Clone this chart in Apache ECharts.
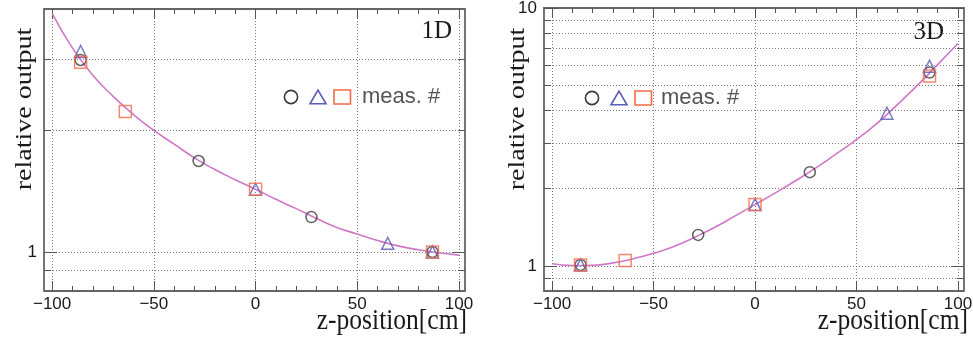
<!DOCTYPE html>
<html><head><meta charset="utf-8">
<script src="https://cdn.jsdelivr.net/npm/echarts@6/dist/echarts.min.js"></script>
<style>html,body{margin:0;padding:0;background:#fff}#c{width:973px;height:339px}</style>
</head><body><div id="c"></div>
<script>
// ---- data ----
const curveX   = [-100,-90,-80,-70,-60,-50,-40,-30,-20,-10,0,10,20,30,40,50,60,70,80,90,100];
const curve1D  = [3.90,3.20,2.74,2.43,2.19,2.00,1.85,1.71,1.60,1.51,1.43,1.35,1.28,1.21,1.15,1.107,1.067,1.035,1.012,0.995,0.982];
const curve3D  = [1.02,1.005,1.007,1.028,1.067,1.12,1.19,1.29,1.41,1.56,1.73,1.92,2.14,2.40,2.72,3.09,3.56,4.21,5.01,6.03,7.28];

const circX1D = [-86,-28,27.5,87];  const circY1D = [2.99,1.68,1.22,1.00];
const triX1D  = [-86,0,65,87];      const triY1D  = [3.14,1.43,1.05,1.00];
const sqX1D   = [-86,-64,0,87];     const sqY1D   = [2.95,2.23,1.43,1.00];

const circX3D = [-86,-28,27,86];    const circY3D = [1.01,1.32,2.31,5.62];
const triX3D  = [-86,0,65,86];      const triY3D  = [1.01,1.73,3.91,5.95];
const sqX3D   = [-86,-64,0,86];     const sqY3D   = [1.01,1.05,1.73,5.45];

const xMajorTicks = [-100,-50,0,50,100];
const xMinorTicks = [-100,-90,-80,-70,-60,-50,-40,-30,-20,-10,0,10,20,30,40,50,60,70,80,90,100];
const yTicks1D  = [0.9,1,2,3];           const yMajor1D = [1];     const yLabels1D = [1];
const yTicks3D  = [0.9,1,2,3,4,5,6,7,8,9]; const yMajor3D = [1,10]; const yLabels3D = [1,10];

// ---- styling ----
const SANS = 'Liberation Sans, Arial, sans-serif';
const SERIF = 'Liberation Serif, Times New Roman, serif';
const TICK = '#555';
const GRIDC = '#7a7a7a';
const CIRC = '#3a3a3a', TRI = '#5b5bb8', SQ = '#f26a48', CURVE = '#d078c8';
const minus = v => String(v).replace('-', '\u2212');
const zip = (a, b) => a.map((v, i) => [v, b[i]]);

function xAxes(g) {
  const base = {type:'value', gridIndex:g, min:-104, max:103,
    axisLine:{show:false,onZero:false}, splitLine:{show:false}, axisLabel:{show:false}};
  const tick = (vals, len) => ({show:true, inside:true, length:len, customValues:vals, lineStyle:{color:TICK, width:1}});
  return [
    Object.assign({}, base, {position:'bottom', axisTick:tick(xMajorTicks, 10),
      axisLabel:{show:true, customValues:xMajorTicks, formatter:minus, color:'#1a1a1a', fontSize:17, fontFamily:SANS, margin:5},
      splitLine:{show:true, lineStyle:{color:GRIDC, type:[1,2], width:1}}}),
    Object.assign({}, base, {position:'bottom', axisTick:tick(xMinorTicks, 5)}),
    Object.assign({}, base, {position:'top', axisTick:tick(xMajorTicks, 10)}),
    Object.assign({}, base, {position:'top', axisTick:tick(xMinorTicks, 5)})
  ];
}
function yAxes(g, max, ticks, major, labels) {
  const base = {type:'log', logBase:10, gridIndex:g, min:0.8, max:max,
    axisLine:{show:false,onZero:false}, splitLine:{show:false}, axisLabel:{show:false}};
  const tick = (vals, len) => ({show:true, inside:true, length:len, customValues:vals, lineStyle:{color:TICK, width:1}});
  return [
    Object.assign({}, base, {position:'left', axisTick:tick(ticks, 7),
      axisLabel:{show:true, customValues:labels, formatter:v => String(v), color:'#1a1a1a', fontSize:17, fontFamily:SANS, margin:7},
      splitLine:{show:true, lineStyle:{color:GRIDC, type:[1,2], width:1}}}),
    Object.assign({}, base, {position:'left', axisTick:tick(major, 13)}),
    Object.assign({}, base, {position:'right', axisTick:tick(ticks, 7)}),
    Object.assign({}, base, {position:'right', axisTick:tick(major, 13)})
  ];
}
function scatter(name, symbol, size, color, data, ax) {
  return {type:'scatter', name, symbol, symbolSize:size, data, xAxisIndex:ax, yAxisIndex:ax, z:3,
    itemStyle:{color:'rgba(0,0,0,0)', borderColor:color, borderWidth:1.5}};
}
function legendGfx(cx, cy, tx) {
  return [
    {type:'circle', shape:{cx:cx, cy:cy, r:6.6}, style:{fill:'none', stroke:CIRC, lineWidth:1.6}},
    {type:'polygon', shape:{points:[[cx+27,cy-6.8],[cx+35,cy+6.8],[cx+19,cy+6.8]]}, style:{fill:'none', stroke:TRI, lineWidth:1.6}},
    {type:'rect', shape:{x:cx+43, y:cy-7, width:16.5, height:14}, style:{fill:'none', stroke:SQ, lineWidth:1.6}},
    {type:'text', x:tx, y:cy, style:{text:'meas. #', fill:'#555', font:'22px ' + SANS, align:'left', verticalAlign:'middle'}}
  ];
}

const chart = echarts.init(document.getElementById('c'), null, {renderer:'canvas'});
chart.setOption({
  backgroundColor:'#fff',
  animation:false,
  grid:[
    {left:44, right:508, top:9, bottom:48, show:true, borderColor:'#666', borderWidth:1.8, outerBoundsMode:'none', containLabel:false},
    {left:544, right:9, top:8, bottom:48, show:true, borderColor:'#666', borderWidth:1.8, outerBoundsMode:'none', containLabel:false}
  ],
  xAxis: xAxes(0).concat(xAxes(1)),
  yAxis: yAxes(0, 4, yTicks1D, yMajor1D, yLabels1D).concat(yAxes(1, 10, yTicks3D, yMajor3D, yLabels3D)),
  series:[
    {type:'line', data:zip(curveX, curve1D), xAxisIndex:0, yAxisIndex:0, smooth:true, showSymbol:false, lineStyle:{color:CURVE, width:1.6}, z:2},
    scatter('circle 1D','circle',11,CIRC,zip(circX1D,circY1D),0),
    scatter('triangle 1D','triangle',12,TRI,zip(triX1D,triY1D),0),
    scatter('square 1D','rect',12,SQ,zip(sqX1D,sqY1D),0),
    {type:'line', data:zip(curveX, curve3D), xAxisIndex:4, yAxisIndex:4, smooth:true, showSymbol:false, lineStyle:{color:CURVE, width:1.6}, z:2},
    scatter('circle 3D','circle',11,CIRC,zip(circX3D,circY3D),4),
    scatter('triangle 3D','triangle',12,TRI,zip(triX3D,triY3D),4),
    scatter('square 3D','rect',12,SQ,zip(sqX3D,sqY3D),4)
  ],
  graphic:[
    {type:'text', x:25, y:109, rotation:Math.PI/2, scaleY:0.85, style:{text:'relative output', fill:'#1a1a1a', font:'28px ' + SERIF, align:'center', verticalAlign:'middle'}},
    {type:'text', x:518, y:109, rotation:Math.PI/2, scaleY:0.85, style:{text:'relative output', fill:'#1a1a1a', font:'28px ' + SERIF, align:'center', verticalAlign:'middle'}},
    {type:'text', x:467, y:321, scaleX:0.88, style:{text:'z-position[cm]', fill:'#1a1a1a', font:'29px ' + SERIF, align:'right', verticalAlign:'middle'}},
    {type:'text', x:968, y:321, scaleX:0.88, style:{text:'z-position[cm]', fill:'#1a1a1a', font:'29px ' + SERIF, align:'right', verticalAlign:'middle'}},
    {type:'text', x:452, y:31, style:{text:'1D', fill:'#1a1a1a', font:'25px ' + SERIF, align:'right', verticalAlign:'middle'}},
    {type:'text', x:944, y:32, style:{text:'3D', fill:'#1a1a1a', font:'25px ' + SERIF, align:'right', verticalAlign:'middle'}}
  ].concat(legendGfx(291, 97, 362)).concat(legendGfx(592, 98, 661))
});
</script></body></html>
